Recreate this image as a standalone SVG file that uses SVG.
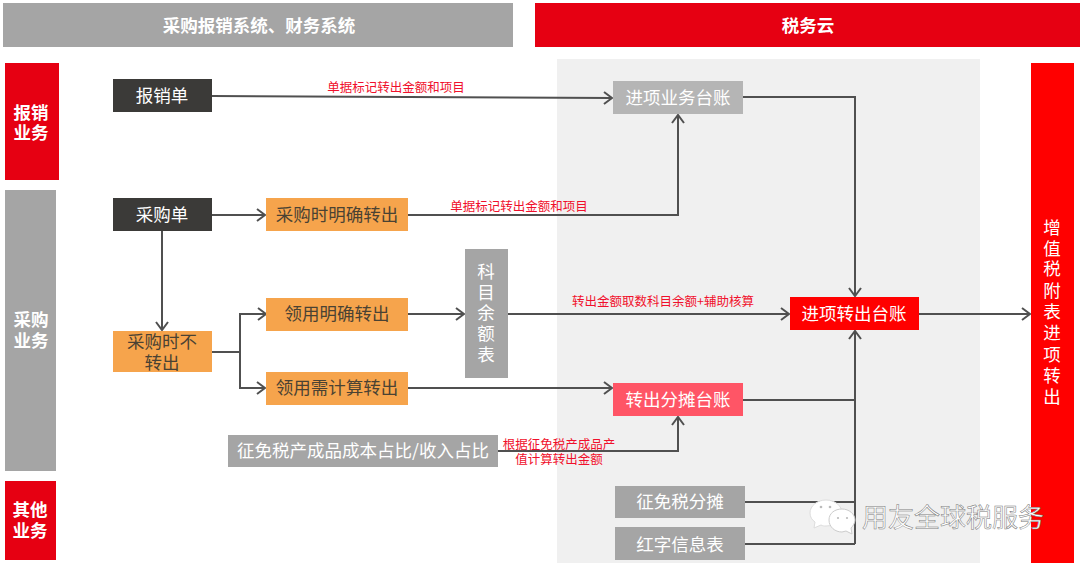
<svg xmlns="http://www.w3.org/2000/svg" width="1080" height="566" viewBox="0 0 1080 566">
<style>
text{font-family:"Noto Sans CJK SC","Liberation Sans",sans-serif;text-anchor:middle}
.w{fill:#fff;font-size:17.5px}
.d{fill:#4a4233;font-size:17.5px}
.b{fill:#fff;font-size:17.5px;font-weight:700}
.r{fill:#f0102c;font-size:12.5px}
.c{fill:none;stroke:#505050;stroke-width:2}
.a{marker-end:url(#ah)}
.dark{fill:#3b3a38}.or{fill:#f6a44c}.gr{fill:#a5a5a5}.lg{fill:#b5b5b5}
</style>
<defs><marker id="ah" markerUnits="userSpaceOnUse" markerWidth="12" markerHeight="14" refX="10" refY="7" orient="auto"><path d="M2 1L10 7L2 13" fill="none" stroke="#505050" stroke-width="2"/></marker></defs>
<rect id="panel" x="557" y="59" width="423" height="504" fill="#f0f0f0"/>
<g id="header-left"><rect x="3" y="3" width="510" height="44" class="gr"/><text x="259" y="32" class="b">采购报销系统、财务系统</text></g>
<g id="header-right"><rect x="535" y="3" width="545" height="44" fill="#e60012"/><text x="808" y="32" class="b">税务云</text></g>
<g id="side-1"><rect x="5" y="63" width="54" height="117" fill="#e60012"/><text x="31" y="119" class="b">报销</text><text x="31" y="139" class="b">业务</text></g>
<g id="side-2"><rect x="5" y="190" width="51" height="281" class="gr"/><text x="31" y="326" class="b">采购</text><text x="31" y="347" class="b">业务</text></g>
<g id="side-3"><rect x="5" y="481" width="51" height="79" fill="#e60012"/><text x="30" y="516" class="b">其他</text><text x="30" y="537" class="b">业务</text></g>
<g id="connectors">
<path class="c a" d="M212 96L612 98"/>
<path class="c a" d="M212 215H265"/>
<path class="c a" d="M408 215H678V115"/>
<path class="c a" d="M162 231V330"/>
<path class="c" d="M212 352H240"/>
<path class="c a" d="M240 352V314H266"/>
<path class="c a" d="M240 352V388H265"/>
<path class="c a" d="M408 314H464"/>
<path class="c a" d="M508 314H789"/>
<path class="c a" d="M408 388H612"/>
<path class="c a" d="M498 451H678V417"/>
<path class="c a" d="M743 97H855V296"/>
<path class="c a" d="M919 314H1030"/>
<path class="c a" d="M855 544V331"/>
<path class="c" d="M743 400H855"/>
<path class="c" d="M745 502H855"/>
<path class="c" d="M745 544H855"/>
</g>
<g id="n-baoxiao"><rect x="113" y="79" width="99" height="33" class="dark"/><text x="162" y="102" class="w">报销单</text></g>
<g id="n-caigou"><rect x="113" y="198" width="99" height="33" class="dark"/><text x="162" y="221" class="w">采购单</text></g>
<g id="n-mingque"><rect x="266" y="198" width="142" height="33" class="or"/><text x="337" y="221" class="d">采购时明确转出</text></g>
<g id="n-buzhuan"><rect x="113" y="331" width="99" height="41" class="or"/><text x="162" y="348" class="d">采购时不</text><text x="162" y="369" class="d">转出</text></g>
<g id="n-lingyong"><rect x="266" y="298" width="142" height="33" class="or"/><text x="337" y="320" class="d">领用明确转出</text></g>
<g id="n-jisuan"><rect x="266" y="372" width="142" height="33" class="or"/><text x="337" y="394" class="d">领用需计算转出</text></g>
<g id="n-kemu"><rect x="465" y="249" width="43" height="129" class="gr"/><text x="486" y="278" class="w">科</text><text x="486" y="298.500" class="w">目</text><text x="486" y="319" class="w">余</text><text x="486" y="340" class="w">额</text><text x="486" y="361" class="w">表</text></g>
<g id="n-zhengmian"><rect x="228" y="435" width="270" height="32" class="gr"/><text x="363" y="457" class="w">征免税产成品成本占比/收入占比</text></g>
<g id="n-jinxiang"><rect x="613" y="81" width="130" height="33" class="lg"/><text x="678" y="104" class="w">进项业务台账</text></g>
<g id="n-zhuanchu"><rect x="790" y="297" width="129" height="33" fill="#f00"/><text x="854" y="319.500" class="w">进项转出台账</text></g>
<g id="n-fentan"><rect x="613" y="383" width="130" height="33" fill="#ff5566"/><text x="678" y="406" class="w">转出分摊台账</text></g>
<g id="n-zmfentan"><rect x="615" y="486" width="130" height="32" class="gr"/><text x="680" y="508" class="w">征免税分摊</text></g>
<g id="n-hongzi"><rect x="615" y="527" width="130" height="33" class="gr"/><text x="680" y="551" class="w">红字信息表</text></g>
<g id="n-right"><rect x="1031" y="63" width="43" height="500" fill="#f00"/>
<text x="1052" y="234" class="w">增</text><text x="1052" y="254.500" class="w">值</text><text x="1052" y="275" class="w">税</text><text x="1052" y="296.500" class="w">附</text><text x="1052" y="318" class="w">表</text><text x="1052" y="339" class="w">进</text><text x="1052" y="361" class="w">项</text><text x="1052" y="382" class="w">转</text><text x="1052" y="403" class="w">出</text></g>
<g id="labels">
<text x="396" y="92" class="r">单据标记转出金额和项目</text>
<text x="519" y="211" class="r">单据标记转出金额和项目</text>
<text x="663" y="306" class="r">转出金额取数科目余额+辅助核算</text>
<text x="559" y="449" class="r">根据征免税产成品产</text>
<text x="559" y="464" class="r">值计算转出金额</text>
</g>
<g id="watermark">
<path d="M826 500c9 0 16 6 16 13s-7 13-16 13c-2 0-3 0-5-1l-7 3 1-6c-3-2-5-5-5-9 0-7 7-13 16-13z" fill="#fff" stroke="#ddd"/>
<path d="M842 509c7 0 13 5 13 11 0 3-2 6-4 8l1 6-6-3c-1 0-3 1-4 1-7 0-13-5-13-12s6-11 13-11z" fill="#fff" stroke="#ccc"/>
<circle cx="821" cy="507" r="1.300" fill="#bbb"/><circle cx="830" cy="507" r="1.300" fill="#bbb"/><circle cx="838" cy="518" r="1.100" fill="#bbb"/><circle cx="847" cy="518" r="1.100" fill="#bbb"/>
<text x="953" y="527" fill="#fff" stroke="#777" stroke-width=".5" style="font-size:26px">用友全球税服务</text></g>
</svg>
